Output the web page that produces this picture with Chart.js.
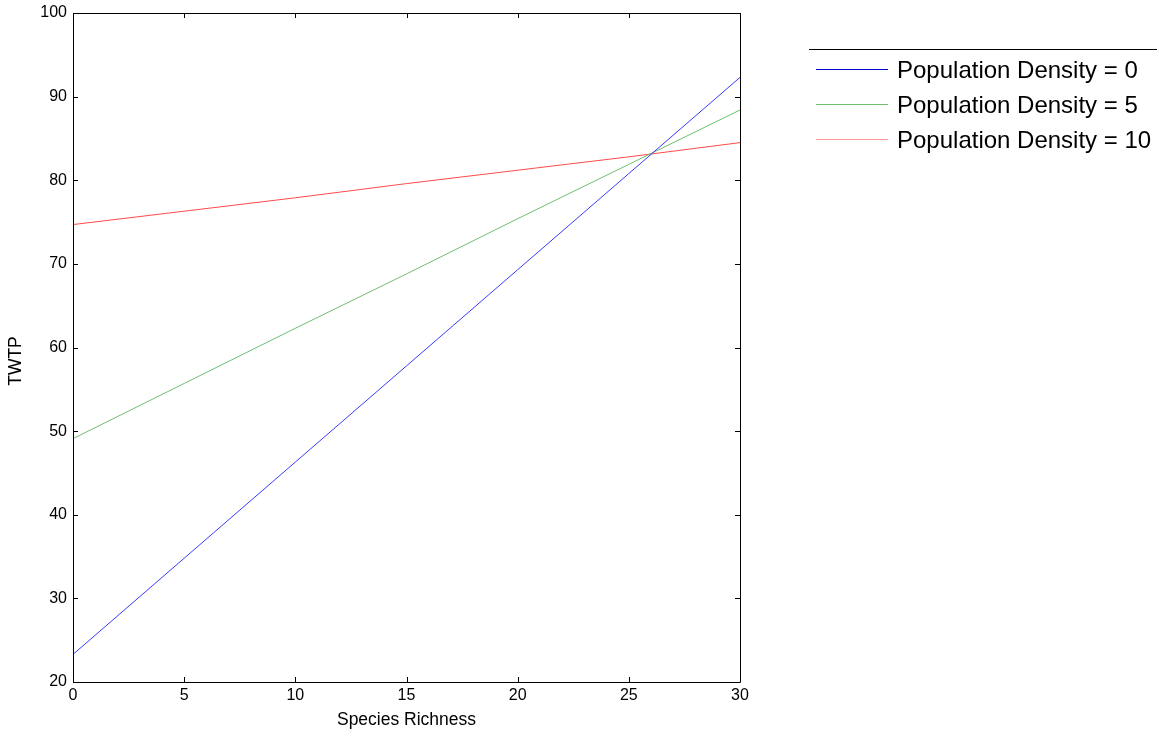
<!DOCTYPE html>
<html>
<head>
<meta charset="utf-8">
<script src="https://cdn.jsdelivr.net/npm/chart.js@4.4.0/dist/chart.umd.min.js"></script>
<style>
html,body{margin:0;padding:0;background:#fff;}
#wrap{position:relative;width:1159px;height:736px;}
</style>
</head>
<body>
<div id="wrap"><canvas id="c" width="1159" height="736"></canvas></div>
<script>
const xValues = [0, 5, 10, 15, 20, 25, 30];
const density0 = [23.3, 34.8, 46.3, 57.8, 69.3, 80.8, 92.3];
const density5 = [49.1, 55.7, 62.3, 68.8, 75.4, 81.9, 88.4];
const density10 = [74.7, 76.3, 77.9, 79.6, 81.2, 82.8, 84.5];
const seriesLabels = ['Population Density = 0', 'Population Density = 5', 'Population Density = 10'];
const xTicks = [0, 5, 10, 15, 20, 25, 30];
const yTicks = [20, 30, 40, 50, 60, 70, 80, 90, 100];
const xTitle = 'Species Richness';
const yTitle = 'TWTP';

const FONT = '"Liberation Sans", Arial, sans-serif';
const lineColors = ['#3b3bff', '#6fbf6f', '#ff4a4a'];
const legendColors = ['#0000d0', '#6fbf6f', '#ff9a9a'];

function pts(arr){ return xValues.map((x,i)=>({x:x,y:arr[i]})); }

const frame = {
  id:'frame',
  afterDraw(chart){
    const ctx = chart.ctx, a = chart.chartArea;
    const xs = chart.scales.x, ys = chart.scales.y;
    ctx.save();
    ctx.strokeStyle = '#000';
    ctx.lineWidth = 1;
    ctx.beginPath();
    ctx.rect(Math.round(a.left)+0.5, Math.round(a.top)+0.5, Math.round(a.right-a.left), Math.round(a.bottom-a.top));
    ctx.stroke();
    const tl = 5;
    ctx.beginPath();
    xTicks.forEach(v=>{
      const px = Math.round(xs.getPixelForValue(v))+0.5;
      ctx.moveTo(px, a.bottom); ctx.lineTo(px, a.bottom - tl);
      ctx.moveTo(px, a.top); ctx.lineTo(px, a.top + tl);
    });
    yTicks.forEach(v=>{
      const py = Math.round(ys.getPixelForValue(v))+0.5;
      ctx.moveTo(a.left, py); ctx.lineTo(a.left + tl, py);
      ctx.moveTo(a.right, py); ctx.lineTo(a.right - tl, py);
    });
    ctx.stroke();
    // y title
    ctx.save();
    ctx.translate(16, 361);
    ctx.rotate(-Math.PI/2);
    ctx.font = '17.5px ' + FONT;
    ctx.fillStyle = '#000';
    ctx.textAlign = 'center';
    ctx.textBaseline = 'middle';
    ctx.fillText(yTitle, 0, 0);
    ctx.restore();
    // legend
    ctx.strokeStyle = '#000';
    ctx.beginPath();
    ctx.moveTo(809, 49.5); ctx.lineTo(1157, 49.5);
    ctx.stroke();
    const ys2 = [69.5, 104.5, 139.5];
    ctx.font = '24px ' + FONT;
    ctx.textBaseline = 'middle';
    ctx.textAlign = 'left';
    seriesLabels.forEach((lab,i)=>{
      ctx.strokeStyle = legendColors[i];
      ctx.lineWidth = 1;
      ctx.beginPath();
      ctx.moveTo(816, ys2[i]); ctx.lineTo(888, ys2[i]);
      ctx.stroke();
      ctx.fillStyle = '#000';
      ctx.fillText(lab, 897, ys2[i]+2);
    });
    ctx.restore();
  }
};

new Chart(document.getElementById('c'), {
  type:'line',
  data:{
    datasets:[
      {label:seriesLabels[0], data:pts(density0), borderColor:lineColors[0], borderWidth:1, pointRadius:0, tension:0},
      {label:seriesLabels[1], data:pts(density5), borderColor:lineColors[1], borderWidth:1, pointRadius:0, tension:0},
      {label:seriesLabels[2], data:pts(density10), borderColor:lineColors[2], borderWidth:1, pointRadius:0, tension:0}
    ]
  },
  options:{
    responsive:false,
    animation:false,
    layout:{padding:{top:13, right:419, left:0, bottom:0}},
    plugins:{legend:{display:false}, tooltip:{enabled:false}},
    scales:{
      x:{
        type:'linear', min:0, max:30,
        afterBuildTicks(s){ s.ticks = xTicks.map(v=>({value:v})); },
        afterFit(s){ s.height = 54; s.paddingLeft = 0; s.paddingRight = 0; },
        grid:{display:false, drawTicks:false},
        border:{display:false},
        ticks:{color:'#000', font:{family:FONT, size:16}, padding:4, maxRotation:0},
        title:{display:true, text:xTitle, color:'#000', font:{family:FONT, size:17.5}, padding:{top:2, bottom:5}}
      },
      y:{
        type:'linear', min:20, max:100,
        afterBuildTicks(s){ s.ticks = yTicks.map(v=>({value:v})); },
        afterFit(s){ s.width = 73; s.paddingTop = 0; s.paddingBottom = 0; },
        grid:{display:false, drawTicks:false},
        border:{display:false},
        ticks:{color:'#000', font:{family:FONT, size:16}, padding:6}
      }
    }
  },
  plugins:[frame]
});
</script>
</body>
</html>
